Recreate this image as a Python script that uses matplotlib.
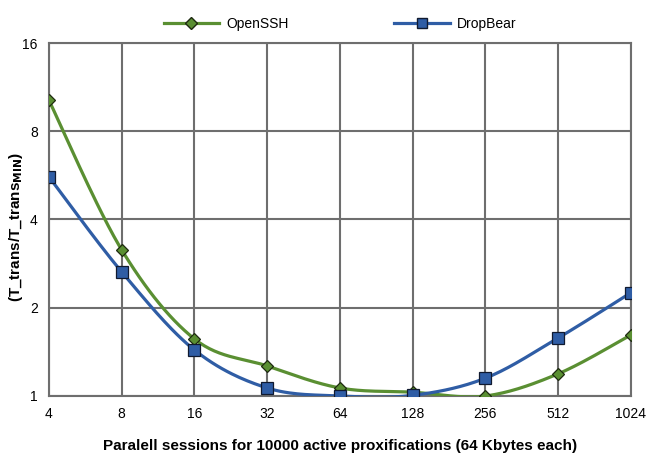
import numpy as np
import matplotlib.pyplot as plt
from matplotlib.ticker import FixedLocator, FixedFormatter, NullLocator

plt.rcParams['font.family'] = ['Liberation Sans', 'DejaVu Sans']

sessions = [4, 8, 16, 32, 64, 128, 256, 512, 1024]
openssh = [10.2, 3.15, 1.565, 1.266, 1.065, 1.03, 1.0, 1.19, 1.615]
dropbear = [5.59, 2.65, 1.435, 1.065, 1.0, 1.005, 1.15, 1.577, 2.25]
y_ticks = [1, 2, 4, 8, 16]


def smooth(xs, ys, n=30):
    # catmull-rom style smoothing in log2 space (like Excel smoothed lines)
    px = np.log2(xs)
    py = np.log2(ys)
    P = np.column_stack([px, py])
    out = []
    for i in range(len(P) - 1):
        p0 = P[i - 1] if i > 0 else P[i]
        p1 = P[i]
        p2 = P[i + 1]
        p3 = P[i + 2] if i + 2 < len(P) else P[i + 1]
        c1 = p1 + (p2 - p0) / 6
        c2 = p2 - (p3 - p1) / 6
        t = np.linspace(0, 1, n)[:, None]
        seg = ((1 - t) ** 3) * p1 + 3 * ((1 - t) ** 2) * t * c1 + 3 * (1 - t) * t ** 2 * c2 + t ** 3 * p2
        out.append(seg if i == 0 else seg[1:])
    out = np.vstack(out)
    return 2 ** out[:, 0], 2 ** out[:, 1]


fig = plt.figure(figsize=(6.47, 4.59), dpi=100)
ax = fig.add_axes([0.0757, 0.1373, 0.8993, 0.769])

green = '#5a8f32'
blue = '#2f5da5'

sx, sy = smooth(sessions, openssh)
ax.plot(sx, sy, color=green, lw=2.3, zorder=3)
ax.plot(sessions, openssh, ls='none', marker='D', ms=6, mfc=green, mec='#1e2a10', mew=0.9, zorder=4)
sx, sy = smooth(sessions, dropbear)
ax.plot(sx, sy, color=blue, lw=2.3, zorder=3)
ax.plot(sessions, dropbear, ls='none', marker='s', ms=8.5, mfc=blue, mec='#101a30', mew=0.9, zorder=4)

# legend proxies
ax.plot([], [], color=green, lw=2.3, marker='D', ms=6, mfc=green, mec='#1e2a10', label='OpenSSH')
ax.plot([], [], color=blue, lw=2.3, marker='s', ms=7, mfc=blue, mec='#101a30', label='DropBear')
ax.legend(loc='lower center', bbox_to_anchor=(0.5, 1.0), ncol=2, frameon=False,
          fontsize=10, handlelength=4.0, columnspacing=7.6, handletextpad=0.5,
          borderaxespad=0.5)

ax.set_xscale('log', base=2)
ax.set_yscale('log', base=2)
ax.set_xlim(4, 1024)
ax.set_ylim(1, 16)
ax.xaxis.set_major_locator(FixedLocator(sessions))
ax.xaxis.set_major_formatter(FixedFormatter([str(s) for s in sessions]))
ax.xaxis.set_minor_locator(NullLocator())
ax.yaxis.set_major_locator(FixedLocator(y_ticks))
ax.yaxis.set_major_formatter(FixedFormatter([str(v) for v in y_ticks]))
ax.yaxis.set_minor_locator(NullLocator())

ax.grid(True, color='#6e6e6e', lw=1.5, zorder=1)
for s in ax.spines.values():
    s.set_color('#6e6e6e')
    s.set_linewidth(1.5)
ax.tick_params(length=0, labelsize=10, pad=8)

ax.set_xlabel('Paralell sessions for 10000 active proxifications (64 Kbytes each)',
              fontsize=11, fontweight='bold', labelpad=13)
ax.set_ylabel(r'(T_trans/T_trans$_{\mathbf{MIN}}$)', fontsize=11, fontweight='bold')
ax.yaxis.set_label_coords(-0.042, 0.48)

fig.savefig('out.png', dpi=100)
